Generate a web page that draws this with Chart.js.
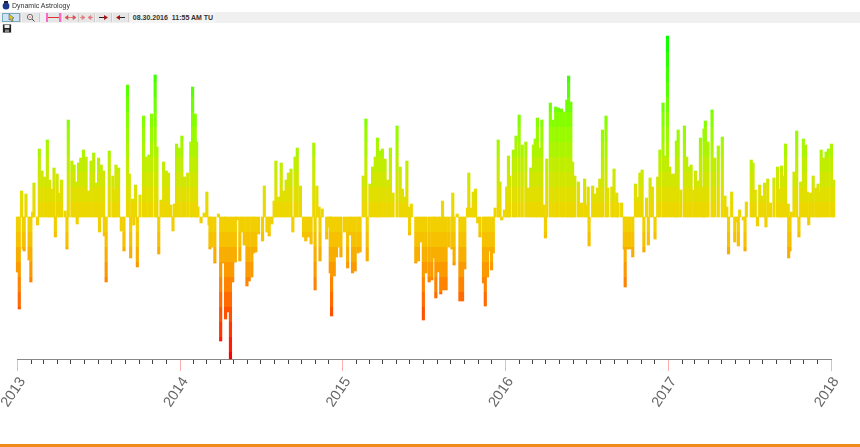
<!DOCTYPE html>
<html><head><meta charset="utf-8"><title>Dynamic Astrology</title>
<style>
html,body{margin:0;padding:0;background:#fff;width:860px;height:447px;overflow:hidden;font-family:"Liberation Sans",Arial,sans-serif}
canvas{position:absolute;left:0;top:0}
.ttl{position:absolute;left:12px;top:1px;font-size:7px;line-height:9px;color:#333}
.bar{position:absolute;left:0;top:12px;width:860px;height:11px;background:#f0f0f0}
.btn{position:absolute;top:13px;height:9px;background:#e6e6e6;border-right:1px solid #ccc}
.btn svg,.sv svg,.ico svg{display:block;width:100%;height:100%}
.date{position:absolute;left:131px;top:12px;width:84px;height:11px;line-height:11px;font-size:7px;font-weight:bold;color:#333;background:#f4f4f4;white-space:pre;text-align:center}
.sv{position:absolute;left:2px;top:24px;width:10px;height:9px;background:#e6e6e6}
.ico{position:absolute;left:2px;top:1px;width:8px;height:9px}
.foot{position:absolute;left:0;top:444px;width:860px;height:3px;background:#f08a1d}
</style></head><body>
<canvas id="c" width="860" height="447"></canvas>
<div class="ico"><svg viewBox="0 0 8 9"><ellipse cx="4" cy="5" rx="3.4" ry="3.6" fill="#1a3a8a"/><rect x="2" y="0" width="4" height="2" fill="#223"/></svg></div>
<div class="ttl">Dynamic Astrology</div>
<div class="bar"></div>
<div class="btn" style="left:2px;width:18px;background:#cfe3f7;box-shadow:inset 0 0 0 1px #7ab"><svg viewBox="0 0 18 9"><path d="M7 1l5 4-2 .5 1 2.5-1.4.5-1-2.5L7 7z" fill="#e8c820" stroke="#444" stroke-width=".5"/></svg></div>
<div class="btn" style="left:22px;width:17px"><svg viewBox="0 0 17 9"><circle cx="8" cy="4" r="2.6" fill="#fff" stroke="#666"/><path d="M10 6l2.5 2.5" stroke="#444"/><path d="M6.8 4h2.4" stroke="#c33" stroke-width=".7"/></svg></div>
<div class="btn" style="left:46px;width:15px"><svg viewBox="0 0 15 9"><path d="M1 0v9M14 0v9" stroke="#ff40c0" stroke-width="1.5"/><path d="M2 4.5h11" stroke="#e03030"/></svg></div>
<div class="btn" style="left:63px;width:15px"><svg viewBox="0 0 15 9"><path d="M2 4.5h11M2 4.5l3-2v4zM13 4.5l-3-2v4z" stroke="#e05050" fill="#e05050" stroke-width=".7"/></svg></div>
<div class="btn" style="left:79px;width:15px"><svg viewBox="0 0 15 9"><path d="M1 4.5h4M10 4.5h4M6 4.5l-3-2v4zM9 4.5l3-2v4z" stroke="#e07070" fill="#f0a0a0" stroke-width=".7"/></svg></div>
<div class="btn" style="left:96px;width:15px"><svg viewBox="0 0 15 9"><path d="M3 4.5h6" stroke="#222"/><path d="M12 4.5L8 2v5z" fill="#b01010"/></svg></div>
<div class="btn" style="left:113px;width:15px"><svg viewBox="0 0 15 9"><path d="M6 4.5h6" stroke="#222"/><path d="M3 4.5L7 2v5z" fill="#b01010"/></svg></div>
<div class="date">08.30.2016  11:55 AM TU</div>
<div class="sv"><svg viewBox="0 0 10 9"><rect x="1" y="0.5" width="8" height="8" fill="#222"/><rect x="2.5" y="1" width="5" height="3" fill="#eee"/><rect x="3" y="5.5" width="4" height="3" fill="#888"/></svg></div>
<div class="foot"></div>
<script src="https://cdn.jsdelivr.net/npm/chart.js@4"></script>
<script>
// Days since 2013-01-01 and signed strength readings
const daysA=[0,4,9,13,15,19,26,30,34,37,45,49,55,61,67,72,77,82,85,89,94,99,107,111,114,122,127,132,134,137,142,148,154,159,165,171,176,182,184,188,193,195,199,206,214,217,221,227,233,239,247,251,254,258,261,265,269,275,283,289,295,301,309,313,317,322,328,334,339,344,349,352,357,363,369,375,382,389,393,399,402,405,412,419];
const valsA=[-55,-92,26,-32,-34,23,-43,-65,5,34,-8,68,46,40,77,37,28,49,-20,43,24,37,6,-32,97,56,52,35,-7,54,59,67,60,26,56,64,34,59,-15,52,46,-19,-65,66,41,27,52,49,-14,-34,132,43,-41,18,-8,32,-50,22,101,60,62,103,142,70,-37,17,55,46,44,12,-14,13,73,69,81,40,44,75,130,103,75,10,-6,4];
const daysB=[425,430,432,437,443,451,456,462,467,472,478,483,489,493,499,504,509,515,520,526,530,535,541,550,554,560,565,571,576,580,586,592,597,603,608,614,618,623,628,635,642,647,653,659,665,668,672,677,679,684,694,699,702,705,711,716,722,726,734,741,747,752,758,764,769,776,782,785,791,797,803,808,813,819,825,831,837,843,852,859,864,870,874,879,880];
const valsB=[25,-8,-32,-30,-46,3,-124,-46,-102,-95,-142,-65,-45,-3,-44,-15,-28,-69,-64,-60,-36,-35,-17,-24,31,-15,-19,-7,16,56,20,54,26,37,44,48,-15,60,69,31,-20,-24,-20,-27,74,-73,31,10,-44,8,-22,-10,-56,-99,-59,-40,-30,-40,-15,-51,-18,-56,-54,-36,-35,41,98,-44,33,50,60,79,66,68,58,37,69,24,91,50,28,20,56,10,-18];
const daysC=[884,894,900,906,911,917,924,930,935,939,945,950,954,956,962,968,975,977,980,987,993,999,1004,1010,1013,1019,1023,1028,1033,1038,1046,1050,1055,1059,1064,1068,1072,1079,1083,1087,1093,1098,1102,1105,1113,1119,1126,1133,1141,1147,1152,1158,1162,1167,1173,1177,1182,1185,1188,1196,1202,1208,1214,1221,1227,1233,1237,1242,1246,1251,1259,1266,1273,1278,1281,1283,1291,1297,1302,1307,1313,1321,1325,1334,1339];
const valsC=[13,-46,-44,-25,-103,-56,-65,-63,-41,-81,-55,-77,16,-73,-73,-30,-32,24,-48,3,-84,-84,-52,9,44,9,25,28,-6,-20,-66,-89,-60,-34,-53,-36,9,77,35,-3,7,30,61,41,67,81,102,72,75,29,49,72,78,99,69,97,12,-21,58,114,97,110,109,108,105,117,141,115,55,41,35,14,38,12,30,-29,31,23,29,38,87,101,29,30,48];
const daysD=[1345,1348,1356,1362,1364,1369,1375,1381,1387,1392,1397,1402,1406,1412,1416,1420,1425,1431,1437,1442,1449,1453,1459,1464,1470,1476,1479,1483,1489,1497,1502,1507,1512,1518,1522,1527,1533,1538,1541,1544,1550,1559,1565,1573,1582,1588,1592,1596,1603,1610,1614,1618,1621,1629,1633,1636,1647,1651,1656,1661,1666,1671,1677,1680,1684,1690,1698,1706,1711,1715,1719,1724,1730,1731,1734,1737,1743,1749,1754,1758,1764,1769,1773,1776,1780,1786,1792,1797,1799,1804,1809,1815,1820,1827,1832];
const valsD=[24,14,14,-32,-70,-32,-32,-40,33,20,44,47,-35,19,-28,39,30,-22,40,67,114,61,181,50,43,43,76,87,27,91,60,50,52,27,46,36,79,30,88,96,75,107,59,71,80,21,10,-37,25,-25,-5,-29,7,-3,-34,15,57,54,27,-9,32,21,34,-10,38,14,39,50,28,51,41,73,13,-41,-34,5,45,86,-20,35,78,72,25,-8,24,41,29,33,25,67,59,65,68,73,37];

const yearLabels=["2013","2014","2015","2016","2017","2018"];
const yearDays=[0,365,730,1095,1461,1826];
const monthDays=[0,31,59,90,120,151,181,212,243,273,304,334,365,396,424,455,485,516,546,577,608,638,669,699,730,761,789,820,850,881,911,942,973,1003,1034,1064,1095,1126,1155,1186,1216,1247,1277,1308,1339,1369,1400,1430,1461,1492,1520,1551,1581,1612,1642,1673,1704,1734,1765,1795,1826];

const allDays=[...daysA,...daysB,...daysC,...daysD];
const allVals=[...valsA,...valsB,...valsC,...valsD];
const points=allDays.map((d,i)=>({x:d,y:allVals[i]}));

const Y_MIN=-142,Y_MAX=192,BAND=15;
function bandColor(v){
  if(v>=0){const t=Math.min(1,v/181);return `rgb(${Math.round(240*(1-Math.pow(t,1.3)))},${Math.round(212+43*Math.min(1,t*2))},0)`;}
  const t=Math.min(1,-v/142);return `rgb(${Math.round(240+15*Math.min(1,t*2))},${Math.round(212*(1-Math.pow(t,1.3)))},0)`;
}
let cachedFill=null;
function steppedFill(ctx){
  const chart=ctx.chart,a=chart.chartArea;
  if(!a)return '#f0d400';
  if(cachedFill)return cachedFill;
  const ys=chart.scales.y;
  const g=chart.ctx.createLinearGradient(0,a.top,0,a.bottom);
  const pos=v=>Math.min(1,Math.max(0,(ys.getPixelForValue(v)-a.top)/(a.bottom-a.top)));
  for(let k=Math.ceil(Y_MAX/BAND);k>Math.floor(Y_MIN/BAND);k--){
    const hi=k*BAND,lo=(k-1)*BAND;
    const c=bandColor(lo>=0?lo+BAND/2:hi-BAND/2);
    g.addColorStop(pos(hi),c);g.addColorStop(pos(lo),c);
  }
  cachedFill=g;return g;
}
new Chart(document.getElementById('c'),{
  type:'bar',
  data:{datasets:[{data:points,barThickness:2.5,backgroundColor:steppedFill,borderWidth:0,clip:false,xAxisID:'x',yAxisID:'y'}]},
  options:{
    responsive:false,animation:false,devicePixelRatio:1,
    layout:{padding:{left:17.5,right:29,top:25,bottom:0}},
    plugins:{legend:{display:false},tooltip:{enabled:false},title:{display:false}},
    scales:{
      y:{display:false,min:Y_MIN,max:Y_MAX},
      x:{type:'linear',position:'bottom',offset:false,min:0,max:1826,
        afterBuildTicks:s=>{s.ticks=yearDays.map(v=>({value:v}));},
        afterFit:s=>{s.paddingLeft=0;s.paddingRight=0;s.height=88;},
        grid:{offset:false,drawOnChartArea:false,drawTicks:true,tickLength:12,tickColor:'#ffb0b0',tickWidth:1},
        border:{display:true,color:'#888',width:1},
        ticks:{autoSkip:false,minRotation:56,maxRotation:56,padding:3,labelOffset:5,color:'#666',
          font:{family:'"Liberation Sans",Arial,sans-serif',size:14.5},
          callback:(v,i)=>yearLabels[i]}
      },
      xm:{type:'linear',axis:'x',position:{y:Y_MIN},min:0,max:1826,offset:false,
        afterBuildTicks:s=>{s.ticks=monthDays.filter(d=>!yearDays.includes(d)).map(v=>({value:v}));},
        grid:{offset:false,drawOnChartArea:false,drawTicks:true,tickLength:4,tickColor:'#444',tickWidth:1},
        border:{display:true,color:'#888',width:1},
        ticks:{display:false}
      }
    }
  }
});
</script>
</body></html>
